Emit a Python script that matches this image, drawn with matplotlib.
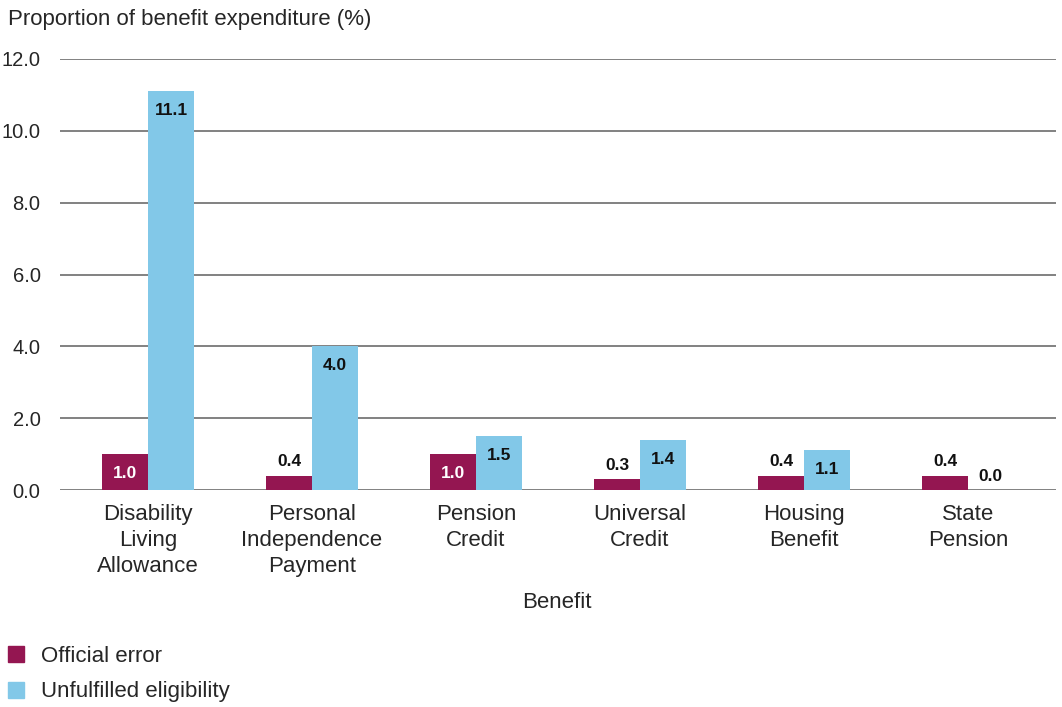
import numpy as np
import matplotlib.pyplot as plt
from matplotlib.patches import Patch

benefits = ['Disability\nLiving\nAllowance', 'Personal\nIndependence\nPayment', 'Pension\nCredit',
            'Universal\nCredit', 'Housing\nBenefit', 'State\nPension']
official_error = [1.0, 0.4, 1.0, 0.3, 0.4, 0.4]
unfulfilled = [11.1, 4.0, 1.5, 1.4, 1.1, 0.0]
series_names = ['Official error', 'Unfulfilled eligibility']
yticks = [0, 2, 4, 6, 8, 10, 12]

PURPLE = '#941651'
BLUE = '#82C8E8'
GRID = '#777777'
TEXT = '#262626'

plt.rcParams['font.family'] = ['Liberation Sans', 'DejaVu Sans']

fig = plt.figure(figsize=(10.62, 7.07), dpi=100)
ax = fig.add_axes([60 / 1062, 1 - 490 / 707, 996 / 1062, 431 / 707])

x = np.arange(len(benefits))
w = 0.28
bars_a = ax.bar(x - w / 2, official_error, w, color=PURPLE, zorder=3)
bars_b = ax.bar(x + w / 2, unfulfilled, w, color=BLUE, zorder=3)

def label(bars, vals, inside_color):
    # values of 1 or more sit inside the bar top, smaller ones just above it
    for b, v in zip(bars, vals):
        cx = b.get_x() + b.get_width() / 2
        dy = -14 if v >= 1.0 else 10
        col = inside_color if v >= 1.0 else '#111111'
        ax.annotate(f'{v:.1f}', (cx, v), xytext=(0, dy), textcoords='offset points',
                    ha='center', va='center', fontsize=12.5, fontweight='bold',
                    color=col, zorder=4)

label(bars_a, official_error, 'white')
label(bars_b, unfulfilled, '#111111')

ax.set_xlim(-0.537, 5.537)
ax.set_ylim(0, 12)
ax.set_yticks(yticks)
ax.set_yticklabels([f'{t:.1f}' for t in yticks])
ax.yaxis.grid(True, color=GRID, linewidth=1.3, zorder=0)
ax.set_axisbelow(True)
for s in ax.spines.values():
    s.set_visible(False)
ax.tick_params(axis='y', length=0, pad=14, labelsize=14.5, labelcolor=TEXT)
ax.tick_params(axis='x', length=0, pad=10, labelsize=16, labelcolor=TEXT)
ax.set_xticks(x)
ax.set_xticklabels(benefits, linespacing=1.32)

fig.text(8 / 1062, 1 - 20 / 707, 'Proportion of benefit expenditure (%)', fontsize=16,
         color=TEXT, va='center', ha='left')
fig.text(557 / 1062, 1 - 603 / 707, 'Benefit', fontsize=16, color=TEXT,
         va='center', ha='center')

handles = [Patch(color=PURPLE), Patch(color=BLUE)]
fig.legend(handles, series_names, loc='upper left', bbox_to_anchor=(8 / 1062, 1 - 646 / 707),
           frameon=False, fontsize=16, handlelength=0.73, handleheight=0.73,
           handletextpad=0.77, labelspacing=0.65, borderpad=0, borderaxespad=0,
           labelcolor=TEXT)

fig.savefig('out.png', dpi=100)
